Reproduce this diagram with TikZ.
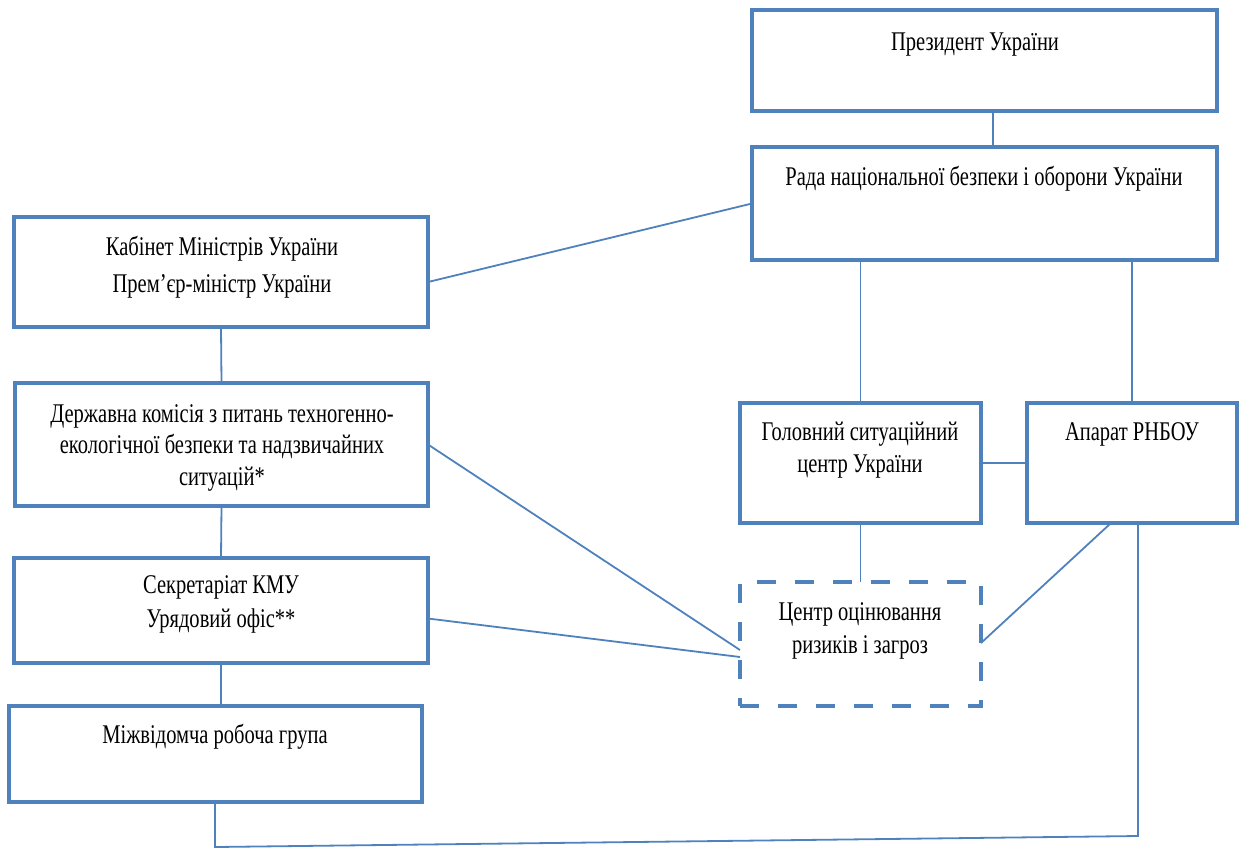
\documentclass[tikz,border=0pt]{standalone}
\usepackage{fontspec}
\setmainfont{Liberation Serif}[FakeStretch=0.76]
\usetikzlibrary{fit,calc}
\definecolor{bblue}{RGB}{79,129,189}
\begin{document}
\begin{tikzpicture}[x=1pt,y=-1pt,
  box/.style={draw=bblue,line width=4pt,inner sep=0pt,outer sep=0pt,rectangle},
  dbox/.style={box,dash pattern=on 19pt off 19pt},
  conn/.style={draw=bblue,line width=1.8pt},
  txt/.style={font=\fontsize{27}{33}\selectfont,align=center,anchor=base,inner sep=0pt}]
\useasboundingbox (0,0) rectangle (1241,847);
% boxes
\node[box,fit={(752,10) (1217,111)}] (pres) {};
\node[box,fit={(752,147) (1217,260)}] (rada) {};
\node[box,fit={(14,217) (428,327)}] (kab) {};
\node[box,fit={(15,383) (428,506)}] (derzh) {};
\node[box,fit={(14,558) (428,663)}] (sekr) {};
\node[box,fit={(9,706) (422,802)}] (mizh) {};
\node[box,fit={(740,403) (981,523)}] (golov) {};
\node[box,fit={(1027,403) (1237,523)}] (apar) {};
\node[dbox,fit={(740,582) (981,706)}] (centr) {};
% texts
\node[txt] (t-pres) at (975,50) {Президент України};
\node[txt] (t-rada) at (984,185) {Рада національної безпеки і оборони України};
\node[txt] (t-kab) at (222,255) {Кабінет Міністрів України};
\node[txt] (t-kab2) at (222,292) {Прем’єр-міністр України};
\node[txt] (t-derzh) at (222,422) {Державна комісія з питань техногенно-};
\node[txt] (t-derzh2) at (222,453) {екологічної безпеки та надзвичайних};
\node[txt] (t-derzh3) at (222,485) {ситуацій*};
\node[txt] (t-sekr) at (221,593) {Секретаріат КМУ};
\node[txt] (t-sekr2) at (221,627) {Урядовий офіс**};
\node[txt] (t-mizh) at (215,743) {Міжвідомча робоча група};
\node[txt] (t-golov) at (860,440) {Головний ситуаційний};
\node[txt] (t-golov2) at (860,472) {центр України};
\node[txt] (t-apar) at (1132,440) {Апарат РНБОУ};
\node[txt] (t-centr) at (860,620) {Центр оцінювання};
\node[txt] (t-centr2) at (860,653) {ризиків і загроз};
% helper coordinates
\coordinate (c1) at (993,0);
\coordinate (br) at (1138,836);
\coordinate (bl) at (215,847);
% connectors
\draw[conn] (pres.south -| c1) -- (rada.north -| c1);
\draw[conn] ([yshift=-10pt]kab.east) -- (rada.west);
\draw[conn] (kab.south) -- (derzh.north);
\draw[conn] (derzh.south) -- (sekr.north);
\draw[conn] (sekr.south) -- (sekr.south |- mizh.north);
\draw[conn] (derzh.east) -- ([yshift=-6pt]centr.west);
\draw[conn] ([yshift=-8pt]sekr.east) -- ([yshift=-13pt]centr.west);
\draw[conn] ($(apar.south west)!0.4!(apar.south east)$) -- ([yshift=1pt]centr.east);
\draw[conn] (rada.south -| golov.north) -- (golov.north);
\draw[conn] (rada.south -| apar.north) -- (apar.north);
\draw[conn] (golov.east) -- (apar.west);
\draw[conn] (golov.south) -- (centr.north);
\draw[conn] (apar.south -| br) -- (br) -- (bl) -- (mizh.south -| bl);
\end{tikzpicture}
\end{document}
